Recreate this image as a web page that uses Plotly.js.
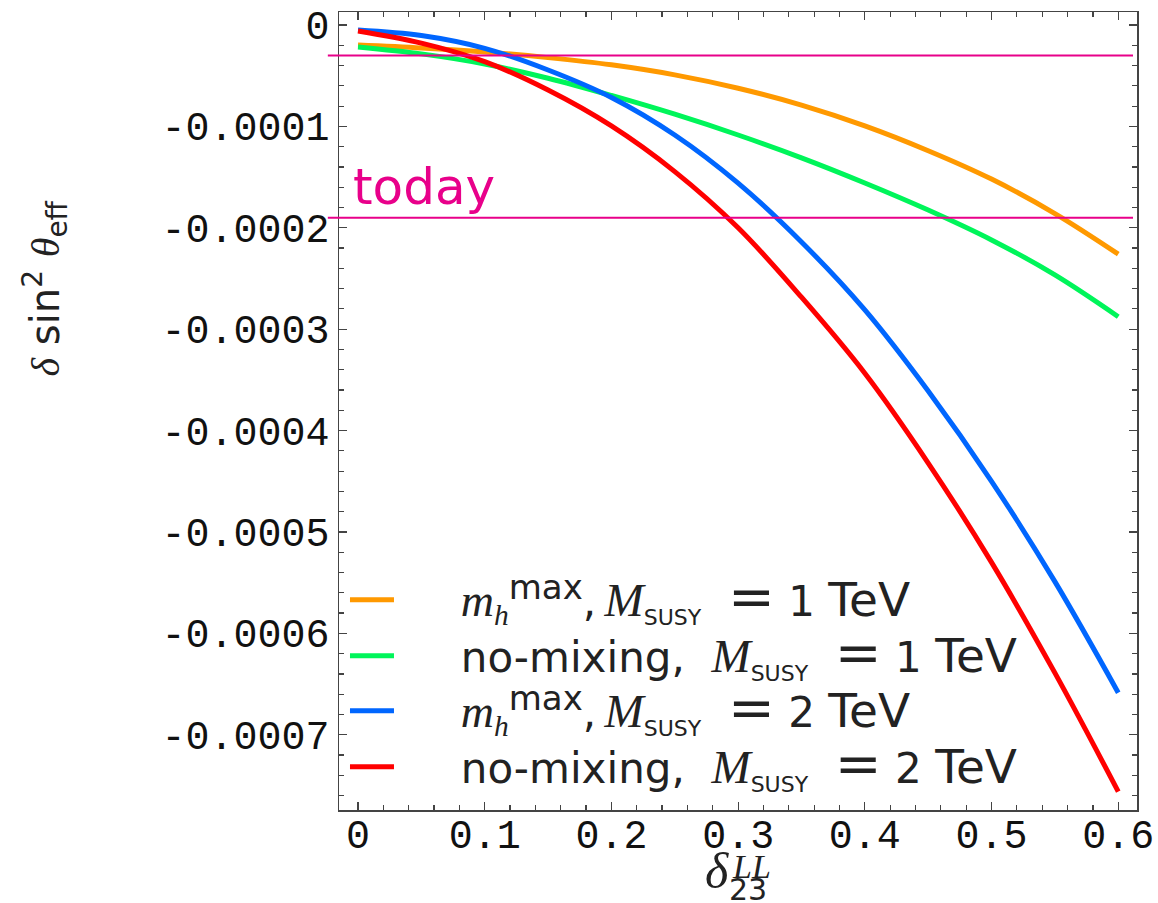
<!DOCTYPE html>
<html>
<head>
<meta charset="utf-8">
<script src="https://cdn.plot.ly/plotly-3.0.1.min.js"></script>
<style>html,body{margin:0;padding:0;background:#fff;}#chart{width:1158px;height:903px;}</style>
</head>
<body>
<div id="chart"></div>
<script>
// delta_23^LL values
const deltaLL = [0, 0.05, 0.10, 0.15, 0.20, 0.25, 0.30, 0.35, 0.40, 0.45, 0.50, 0.55, 0.60];
// delta sin^2 theta_eff for each scenario
const mhmax1TeV  = [-0.197e-4, -0.226e-4, -0.266e-4, -0.322e-4, -0.393e-4, -0.492e-4, -0.624e-4, -0.790e-4, -0.995e-4, -1.240e-4, -1.520e-4, -1.860e-4, -2.260e-4];
const nomix1TeV  = [-0.217e-4, -0.285e-4, -0.385e-4, -0.525e-4, -0.695e-4, -0.880e-4, -1.085e-4, -1.310e-4, -1.558e-4, -1.825e-4, -2.120e-4, -2.465e-4, -2.877e-4];
const mhmax2TeV  = [-0.049e-4, -0.104e-4, -0.230e-4, -0.444e-4, -0.715e-4, -1.085e-4, -1.560e-4, -2.140e-4, -2.810e-4, -3.610e-4, -4.500e-4, -5.490e-4, -6.585e-4];
const nomix2TeV  = [-0.059e-4, -0.179e-4, -0.362e-4, -0.642e-4, -0.996e-4, -1.446e-4, -2.000e-4, -2.685e-4, -3.435e-4, -4.320e-4, -5.300e-4, -6.390e-4, -7.560e-4];
// reference levels (horizontal lines)
const refLevels = [-0.00003, -0.00019];
const refLabel = "today";
// tick labels
const xTickVals = [0, 0.1, 0.2, 0.3, 0.4, 0.5, 0.6];
const xTickText = ["0", "0.1", "0.2", "0.3", "0.4", "0.5", "0.6"];
const yTickVals = [0, -0.0001, -0.0002, -0.0003, -0.0004, -0.0005, -0.0006, -0.0007];
const yTickText = ["0", "-0.0001", "-0.0002", "-0.0003", "-0.0004", "-0.0005", "-0.0006", "-0.0007"];

const NB = '\u00a0';
const TH = '\u2009';
const serifIt = (s, size) => '<span style="font-family:\'Liberation Serif\';font-style:italic' +
  (size ? ';font-size:' + size + 'px' : '') + '">' + s + '</span>';
const M = serifIt('M', 47) + '<sub><span style="font-size:22px">SUSY</span></sub>';
const mh = serifIt('m', 46) + '<sub>' + serifIt('h') + '</sub><sup><span style="font-size:34px">max</span></sup>';
const eq = NB + NB + '<span style="font-size:56px">=</span>' + NB;
const tev = v => v + NB + '<span style="font-size:47px">TeV</span>';
const pre = NB.repeat(4) + TH;
const names = [
  pre + mh + ',' + TH + M + eq + tev('1'),
  pre + 'no-mixing,' + NB + NB + M + eq + tev('1'),
  pre + mh + ',' + TH + M + eq + tev('2'),
  pre + 'no-mixing,' + NB + NB + M + eq + tev('2')
];
const series = [mhmax1TeV, nomix1TeV, mhmax2TeV, nomix2TeV];
const colors = ['#ff9900', '#00f55a', '#0066ff', '#ff0000'];
const legendIds = ['legend', 'legend2', 'legend3', 'legend4'];
const rowY = [0.2632, 0.1930, 0.1241, 0.0539];

const traces = series.map((s, i) => ({
  x: deltaLL, y: s, type: 'scatter', mode: 'lines', name: names[i], legend: legendIds[i],
  line: {color: colors[i], width: 5, shape: 'spline', smoothing: 1}
}));

const shapes = refLevels.map(v => ({
  type: 'line', xref: 'paper', yref: 'y', x0: -0.014, x1: 0.995, y0: v, y1: v,
  line: {color: '#e8008a', width: 2}
}));

const serif = "'Liberation Serif', serif";
const legendBase = i => ({x: 0.0075, y: rowY[i], xanchor: 'left', yanchor: 'middle', bgcolor: 'rgba(0,0,0,0)',
           font: {family: 'DejaVu Sans', size: 42, color: '#222'}, itemwidth: 44});
const layout = {
  width: 1158, height: 903,
  margin: {l: 339, r: 21, t: 12, b: 93},
  paper_bgcolor: '#fff', plot_bgcolor: '#fff',
  showlegend: true,
  legend: legendBase(0), legend2: legendBase(1), legend3: legendBase(2), legend4: legendBase(3),
  xaxis: {range: [-0.015, 0.6148], tickvals: xTickVals, ticktext: xTickText,
          ticks: 'inside', ticklen: 8, tickwidth: 1.2, tickcolor: '#444',
          showline: true, linecolor: '#444', linewidth: 1.5, mirror: 'allticks',
          showgrid: false, zeroline: false, ticklabelstandoff: -12,
          tickfont: {family: 'Liberation Mono', size: 40, color: '#111'},
          minor: {dtick: 0.02, tick0: 0, ticks: 'inside', ticklen: 5, tickcolor: '#444', showgrid: false}},
  yaxis: {range: [-0.0007742, 0.0000128], tickvals: yTickVals, ticktext: yTickText,
          ticks: 'inside', ticklen: 8, tickwidth: 1.2, tickcolor: '#444',
          showline: true, linecolor: '#444', linewidth: 1.5, mirror: 'allticks',
          showgrid: false, zeroline: false,
          tickfont: {family: 'Liberation Mono', size: 40, color: '#111'},
          minor: {dtick: 0.00002, tick0: 0, ticks: 'inside', ticklen: 5, tickcolor: '#444', showgrid: false}},
  shapes: shapes,
  annotations: [
    {text: refLabel, xref: 'paper', yref: 'y', x: 0.0155, y: refLevels[1], xanchor: 'left', yanchor: 'bottom',
     yshift: 0, showarrow: false, font: {family: 'DejaVu Sans', size: 50, color: '#e8008a'}},
    {text: serifIt('δ') + ' sin<sup>2</sup> ' + serifIt('θ') + '<sub>eff</sub>', xref: 'paper', yref: 'paper', x: -0.368, y: 0.654,
     xanchor: 'center', yanchor: 'middle',
     textangle: -90, showarrow: false, font: {family: 'DejaVu Sans', size: 40, color: '#222'}},
    {text: '<i>δ</i>', xref: 'paper', yref: 'paper', x: 0.474, y: -0.0764, xanchor: 'center', yanchor: 'middle',
     showarrow: false, font: {family: serif, size: 50, color: '#222'}},
    {text: '<i>LL</i>', xref: 'paper', yref: 'paper', x: 0.517, y: -0.0705, xanchor: 'center', yanchor: 'middle',
     showarrow: false, font: {family: serif, size: 34, color: '#222'}},
    {text: '23', xref: 'paper', yref: 'paper', x: 0.513, y: -0.1, xanchor: 'center', yanchor: 'middle',
     showarrow: false, font: {family: 'DejaVu Sans', size: 30, color: '#222'}}
  ]
};

Plotly.newPlot('chart', traces, layout, {displayModeBar: false, staticPlot: true});
</script>
</body>
</html>
